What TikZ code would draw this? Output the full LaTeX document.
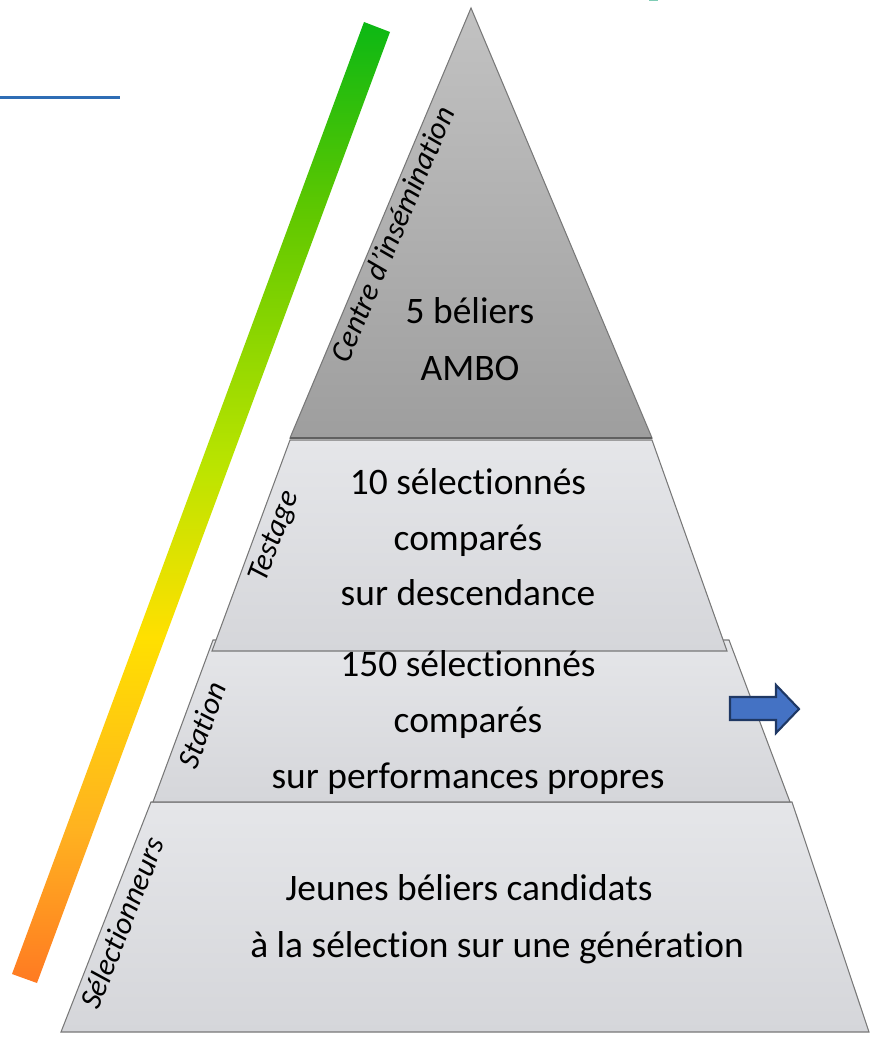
\documentclass[tikz,border=0pt]{standalone}
\usepackage{fontspec}
\setmainfont{Carlito}[Ligatures=NoCommon]
\usetikzlibrary{positioning}
\usepackage{xcolor}

\definecolor{apexgray}{RGB}{194,194,194}
\definecolor{basegray}{RGB}{158,158,158}
\definecolor{layertop}{RGB}{229,230,233}
\definecolor{layerbot}{RGB}{213,214,218}
\definecolor{edgegray}{RGB}{120,120,120}
\definecolor{linkblue}{RGB}{47,109,181}
\definecolor{marktea}{RGB}{127,204,181}
\definecolor{arrowblue}{RGB}{68,114,196}
\definecolor{arrownavy}{RGB}{31,56,100}
\definecolor{barorange}{RGB}{255,122,34}
\definecolor{baramber}{RGB}{255,178,32}
\definecolor{baryellow}{RGB}{255,224,0}
\definecolor{barlime}{RGB}{186,228,0}
\definecolor{barmid}{RGB}{96,200,0}
\definecolor{bargreen}{RGB}{12,184,20}

\pgfdeclareverticalshading{barshade}{100bp}{color(0bp)=(barorange); color(25bp)=(barorange); color(33bp)=(baramber); color(43bp)=(baryellow); color(52bp)=(barlime); color(65bp)=(barmid); color(75bp)=(bargreen); color(100bp)=(bargreen)}

\begin{document}
\begin{tikzpicture}[x=0.02cm, y=-0.02cm,
  layer/.style={draw=edgegray, line width=0.6pt, top color=layertop, bottom color=layerbot},
  big/.style={anchor=base, font=\fontsize{21.3}{25}\selectfont},
  side/.style={font=\fontsize{17.5}{20}\selectfont\itshape}]
\useasboundingbox (0,0) rectangle (869,1037);

% gradient bar
\shade[shading=barshade] (364,22)--(390,32)--(37,983)--(12,974)--cycle;

\draw[linkblue, line width=2pt] (0,97.5)--++(120,0);
\fill[marktea] (649,0) rectangle (658,1.5);

% layers, bottom first
\draw[layer] (151,802)--(792,802)--(869,1032)--(61,1032)--cycle;
\draw[layer] (213,640)--(729,640)--(790,802)--(153,802)--cycle;
\draw[layer] (290,440)--(652,440)--(727,651)--(212,651)--cycle;
\draw[draw=edgegray, line width=0.6pt, top color=apexgray, bottom color=basegray] (471,8)--(652,438)--(290,438)--cycle;
\draw[edgegray!80!black, line width=1.2pt] (290,438)--++(362,0);

\draw[fill=arrowblue, draw=arrownavy, line width=1.2pt] (730,697)--++(46,0)--++(0,-12)--++(23,24)--++(-23,24)--++(0,-13)--++(-46,0)--cycle;

\node (beliers) at (470,323) [big] {5 béliers};
\node (ambo) at (470,380) [big] {AMBO};

\node (dix) at (468,494) [big] {10 sélectionnés};
\node (comparesa) at (468,550) [big] {comparés};
\node (descend) at (468,605) [big] {sur descendance};

\node (cent) at (468,676) [big] {150 sélectionnés};
\node (comparesb) at (468,732) [big] {comparés};
\node (perf) at (468,788) [big] {sur performances propres};

\node (jeunes) at (469,900) [big] {Jeunes béliers candidats};
\node (generation) at (497,957) [big] {à la sélection sur une génération};

\node (centre) at (392,234) [side, rotate=67] {Centre d’insémination};
\node (testage) at (275,537) [side, rotate=69.6] {Testage};
\node (station) at (202,725) [side, rotate=69.7] {Station};
\node (selec) at (122,923) [side, rotate=68.4] {Sélectionneurs};

\end{tikzpicture}
\end{document}
